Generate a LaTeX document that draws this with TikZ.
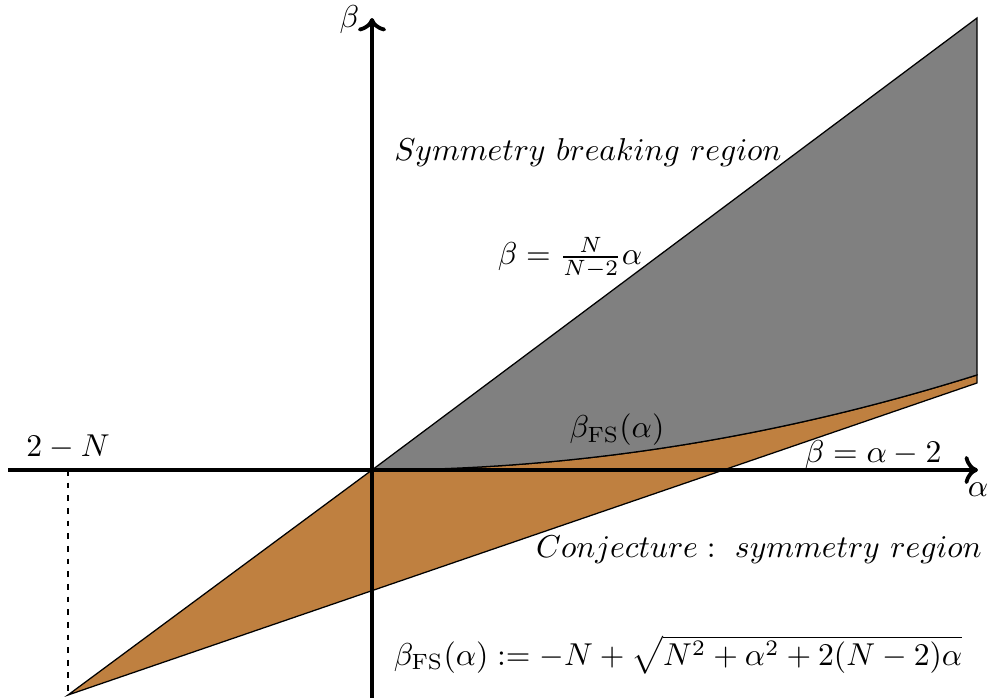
\documentclass[tikz,border=0pt]{standalone}
\usepackage{amsmath,amssymb}
\usepackage{xcolor}
\usetikzlibrary{positioning, calc, arrows.meta}

\tikzset{
    axisline/.style={very thick, ->},
    regionfill/.style={draw=black, thin},
}

\begin{document}
\begin{tikzpicture}[scale=1.0]
        \useasboundingbox (-4.133, -2.533) rectangle (6.833, 5.222);

        % ==========================================
        % KEY POINTS
        % ==========================================
        \coordinate (O) at (0, 0);
        \coordinate (topR) at (6.722, 5.022);
        \coordinate (fsR) at (6.722, 1.056);
        \coordinate (lowR) at (6.722, 0.967);
        \coordinate (botL) at (-3.378, -2.5);
        \coordinate (botAx) at (-3.378, 0);

        % ==========================================
        % REGIONS
        % ==========================================
        % Conjecture region (between beta = alpha - 2 and the upper boundary)
        \filldraw[regionfill, fill=brown] (botL) -- (O)
            .. controls (2.241, 0) and (4.481, 0.352) .. (fsR)
            -- (lowR) -- cycle;

        % Symmetry breaking region
        \filldraw[regionfill, fill=gray] (O) -- (topR) -- (fsR)
            .. controls (4.481, 0.352) and (2.241, 0) .. (O);

        % ==========================================
        % AXES
        % ==========================================
        \draw[axisline] (-4.044, 0) -- (6.733, 0) node[below] (alab) {$\alpha$};
        \draw[axisline] (0, -2.533) -- (0, 5.022);
        \node (blab) at (-0.25, 5.0) {$\beta$};

        % Dashed marker at alpha = 2 - N
        \draw[thin, dash pattern=on 1.8pt off 2.2pt] (botAx) -- (botL);
        \node[above] (nlab) at (botAx) {$2-N$};

        % ==========================================
        % LABELS
        % ==========================================
        \node (sbr) at (2.4, 3.522) {$Symmetry\ breaking\ region$};
        \node (upline) at (2.2, 2.356) {$\beta=\frac{N}{N-2}\alpha$};
        \node (fslab) at (2.722, 0.444) {$\beta_{\rm FS}(\alpha)$};
        \node (lowline) at (5.567, 0.167) {$\beta=\alpha-2$};
        \node (conj) at (4.3, -0.889) {$Conjecture:\ symmetry\ region$};
        \node (fsdef) at (3.4, -2.056) {$\beta_{\rm FS}(\alpha):=-N+\sqrt{N^2+\alpha^2+2(N-2)\alpha}$};

\end{tikzpicture}
\end{document}
